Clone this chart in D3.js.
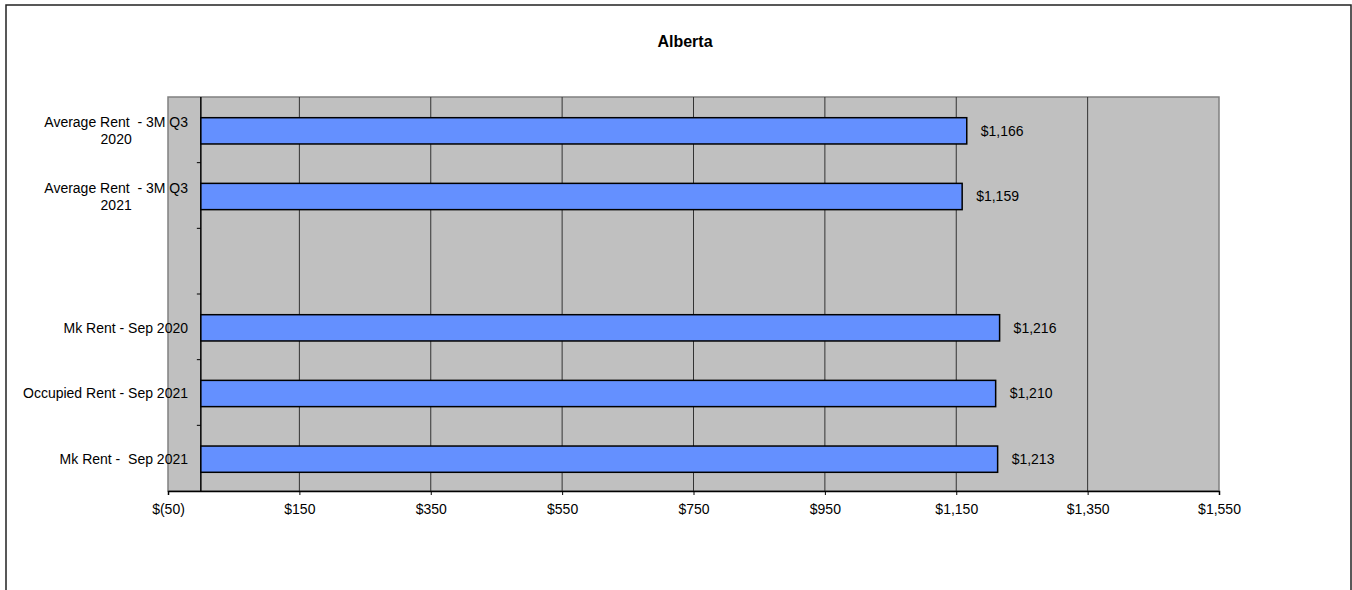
<html>
<head>
    <meta charset="utf-8">
    <title>Alberta</title>
    <script src="https://cdn.jsdelivr.net/npm/d3@7/dist/d3.min.js"></script>
    <style>
        body { margin: 0; background: #fff; }
        text { font-family: "Liberation Sans", Arial, sans-serif; white-space: pre; }
    </style>
</head>
<body>
<div id="main-svg"></div>
<script>
    // chart data
    var categories = [
        "Average Rent  - 3M Q3\n2020",
        "Average Rent  - 3M Q3\n2021",
        "",
        "Mk Rent - Sep 2020",
        "Occupied Rent - Sep 2021",
        "Mk Rent -  Sep 2021"
    ];
    var values = [1166, 1159, null, 1216, 1210, 1213];
    var xTicks = [-50, 150, 350, 550, 750, 950, 1150, 1350, 1550];
    var title = "Alberta";

    var width = 1352, height = 590;
    var plot = { left: 168, right: 1219, top: 97, bottom: 491 };

    var svg = d3.select("#main-svg").append("svg")
        .attr("width", width).attr("height", height);

    // outer frame
    svg.append("rect")
        .attr("x", 6).attr("y", 5)
        .attr("width", 1345).attr("height", 600)
        .attr("fill", "none").attr("stroke", "#222").attr("stroke-width", 1.5);

    svg.append("text")
        .attr("x", 685).attr("y", 47)
        .attr("text-anchor", "middle")
        .attr("font-size", 16).attr("font-weight", "bold")
        .text(title);

    var x = d3.scaleLinear().domain([-50, 1550]).range([plot.left, plot.right]);
    var y = d3.scaleBand().domain(d3.range(categories.length))
        .range([plot.top, plot.bottom]).padding(0);

    // plot background
    svg.append("rect")
        .attr("x", plot.left).attr("y", plot.top)
        .attr("width", plot.right - plot.left).attr("height", plot.bottom - plot.top)
        .attr("fill", "#c0c0c0").attr("stroke", "#808080").attr("stroke-width", 1.5);

    // gridlines
    svg.selectAll(".grid")
        .data(xTicks.slice(1, -1))
        .enter().append("line")
        .attr("x1", function (d) { return x(d); })
        .attr("x2", function (d) { return x(d); })
        .attr("y1", plot.top).attr("y2", plot.bottom)
        .attr("stroke", "#333").attr("stroke-width", 1);

    // x axis
    var xAxis = d3.axisBottom(x).tickValues(xTicks).tickSize(4).tickPadding(9)
        .tickFormat(function (d) {
            return d < 0 ? "$(" + Math.abs(d) + ")" : "$" + d3.format(",")(d);
        });
    var gx = svg.append("g").attr("transform", "translate(0," + plot.bottom + ")").call(xAxis);
    gx.select(".domain").attr("stroke", "#000").attr("stroke-width", 1.5);
    gx.selectAll(".tick line").attr("stroke", "#000");
    gx.selectAll("text").attr("font-size", 14).attr("fill", "#000")
        .attr("font-family", "'Liberation Sans', Arial, sans-serif");

    // category axis at zero
    var x0 = x(0);
    svg.append("line")
        .attr("x1", x0).attr("x2", x0)
        .attr("y1", plot.top).attr("y2", plot.bottom)
        .attr("stroke", "#000").attr("stroke-width", 1.5);
    svg.selectAll(".ytick")
        .data(d3.range(1, categories.length))
        .enter().append("line")
        .attr("x1", x0 - 4).attr("x2", x0)
        .attr("y1", function (d) { return y(d); })
        .attr("y2", function (d) { return y(d); })
        .attr("stroke", "#000");

    // bars
    var barH = y.bandwidth() * 0.4;
    var barData = values.map(function (v, i) { return { i: i, v: v }; })
        .filter(function (d) { return d.v != null; });

    svg.selectAll(".bar")
        .data(barData)
        .enter().append("rect")
        .attr("x", x0)
        .attr("y", function (d) { return y(d.i) + (y.bandwidth() - barH) / 2 + 1; })
        .attr("width", function (d) { return x(d.v) - x0; })
        .attr("height", barH)
        .attr("fill", "#6490ff").attr("stroke", "#000").attr("stroke-width", 1.5);

    svg.selectAll(".lbl")
        .data(barData)
        .enter().append("text")
        .attr("x", function (d) { return x(d.v) + 14; })
        .attr("y", function (d) { return y(d.i) + y.bandwidth() / 2 + 1; })
        .attr("dy", "0.35em")
        .attr("font-size", 14)
        .text(function (d) { return "$" + d3.format(",")(d.v); });

    // category labels
    var labelRight = 188;
    categories.forEach(function (c, i) {
        if (!c) return;
        var lines = c.split("\n");
        var cy = y(i) + y.bandwidth() / 2 + 1;
        var t = svg.append("text").attr("font-size", 14).attr("fill", "#000");
        var spans = lines.map(function (l, k) {
            return t.append("tspan").text(l)
                .attr("y", cy + (k - (lines.length - 1) / 2) * 17)
                .attr("dy", "0.35em");
        });
        var maxW = d3.max(spans, function (s) { return s.node().getComputedTextLength(); });
        var cx = labelRight - maxW / 2;
        spans.forEach(function (s) { s.attr("x", cx).attr("text-anchor", "middle"); });
    });
</script>
</body>
</html>
